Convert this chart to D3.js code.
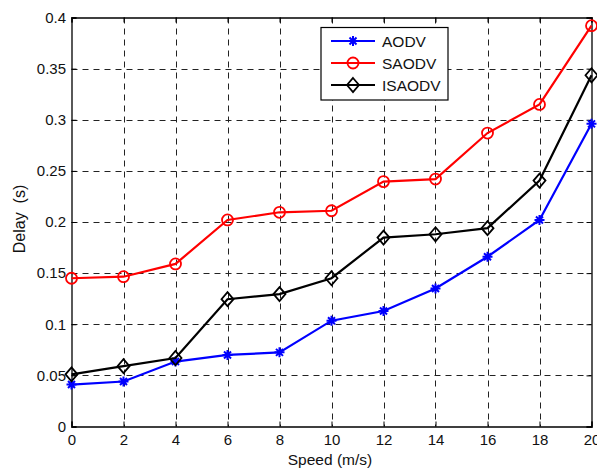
<!DOCTYPE html>
<html><head><meta charset="utf-8">
<script src="https://cdn.jsdelivr.net/npm/d3@7"></script>
<style>body{margin:0;background:#fff}svg{display:block}text{font-family:"Liberation Sans",Arial,sans-serif}</style>
</head><body><svg id="c" width="597" height="470"></svg>
<script>
const speeds = [0,2,4,6,8,10,12,14,16,18,20];
const aodv   = [0.041,0.044,0.0635,0.070,0.0725,0.1035,0.113,0.135,0.166,0.202,0.296];
const saodv  = [0.145,0.1465,0.159,0.202,0.2095,0.211,0.2395,0.242,0.287,0.315,0.392];
const isaodv = [0.051,0.059,0.067,0.1245,0.1295,0.145,0.1848,0.188,0.194,0.2405,0.3435];
const xTicks = [0,2,4,6,8,10,12,14,16,18,20];
const yTicks = [0,0.05,0.1,0.15,0.2,0.25,0.3,0.35,0.4];
const seriesNames = ["AODV","SAODV","ISAODV"];
const seriesColors = ["#0000ff","#ff0000","#000000"];
const seriesMarkers = ["star","circle","diamond"];

const svg = d3.select("#c");
const L=71.5, R=591.5, T=17.5, B=426.5;
const x = d3.scaleLinear().domain([0,20]).range([L,R]);
const y = d3.scaleLinear().domain([0,0.4]).range([B,T]);

// grid
const g = svg.append("g");
g.selectAll(".gx").data(xTicks.slice(1,-1)).enter().append("line")
  .attr("x1",d=>Math.round(x(d))+0.5).attr("x2",d=>Math.round(x(d))+0.5).attr("y1",T).attr("y2",B)
  .attr("stroke","#222").attr("stroke-width",1).attr("stroke-dasharray","6,5");
g.selectAll(".gy").data(yTicks.slice(1,-1)).enter().append("line")
  .attr("y1",d=>Math.round(y(d))+0.5).attr("y2",d=>Math.round(y(d))+0.5).attr("x1",L).attr("x2",R)
  .attr("stroke","#222").attr("stroke-width",1).attr("stroke-dasharray","6,5");

// axes
const fmt = d=> d===0?"0":String(+d.toFixed(2));
const ax = svg.append("g").attr("transform",`translate(0,${B})`)
  .call(d3.axisBottom(x).tickValues(xTicks).tickSize(-5).tickPadding(7.5).tickFormat(d=>d));
const ay = svg.append("g").attr("transform",`translate(${L},0)`)
  .call(d3.axisLeft(y).tickValues(yTicks).tickSize(-5).tickPadding(5.5).tickFormat(fmt));
const axT = svg.append("g").attr("transform",`translate(0,${T})`)
  .call(d3.axisTop(x).tickValues(xTicks).tickSize(-5).tickFormat(""));
const ayR = svg.append("g").attr("transform",`translate(${R},0)`)
  .call(d3.axisRight(y).tickValues(yTicks).tickSize(-5).tickFormat(""));
[ax,ay,axT,ayR].forEach(a=>{
  a.select(".domain").attr("stroke","#000").attr("stroke-width",1.3);
  a.selectAll(".tick line").attr("stroke","#000");
  a.selectAll("text").attr("font-size",15).attr("fill","#111").style("font-family","'Liberation Sans',Arial,sans-serif");
});

// markers
function drawMarker(sel, type, color){
  if(type==="circle"){
    sel.append("circle").attr("r",5.5).attr("fill","none").attr("stroke",color).attr("stroke-width",1.8);
  } else if(type==="diamond"){
    sel.append("path").attr("d","M0,-7L6,0L0,7L-6,0Z").attr("fill","none").attr("stroke",color).attr("stroke-width",1.8);
  } else {
    sel.append("path").attr("d","M-5,0H5M0,-5V5M-3.5,-3.5L3.5,3.5M-3.5,3.5L3.5,-3.5").attr("stroke",color).attr("stroke-width",2);
  }
}

const data = [aodv,saodv,isaodv];
const line = d3.line().x((d,i)=>x(speeds[i])).y(d=>y(d));
data.forEach((vals,k)=>{
  svg.append("path").datum(vals).attr("d",line).attr("fill","none")
    .attr("stroke",seriesColors[k]).attr("stroke-width",2.2);
  vals.forEach((v,i)=>{
    const m = svg.append("g").attr("transform",`translate(${x(speeds[i])},${y(v)})`);
    drawMarker(m, seriesMarkers[k], seriesColors[k]);
  });
});

// legend
const lg = svg.append("g");
lg.append("rect").attr("x",321).attr("y",27.5).attr("width",127).attr("height",72.5)
  .attr("fill","#fff").attr("stroke","#000").attr("stroke-width",1.2);
seriesNames.forEach((n,k)=>{
  const yy = 41 + k*22;
  lg.append("line").attr("x1",331).attr("x2",375).attr("y1",yy).attr("y2",yy)
    .attr("stroke",seriesColors[k]).attr("stroke-width",2.2);
  drawMarker(lg.append("g").attr("transform",`translate(353,${yy})`), seriesMarkers[k], seriesColors[k]);
  lg.append("text").attr("x",382).attr("y",yy+5.5).attr("font-size",15.5).attr("fill","#111").text(n);
});

// axis labels
svg.append("text").attr("x",330).attr("y",465).attr("text-anchor","middle").attr("font-size",15.5).attr("fill","#111").text("Speed (m/s)");
svg.append("text").attr("transform","translate(25,219) rotate(-90)").attr("text-anchor","middle").attr("font-size",16).attr("fill","#111").style("white-space","pre").text("Delay  (s)");
</script></body></html>
